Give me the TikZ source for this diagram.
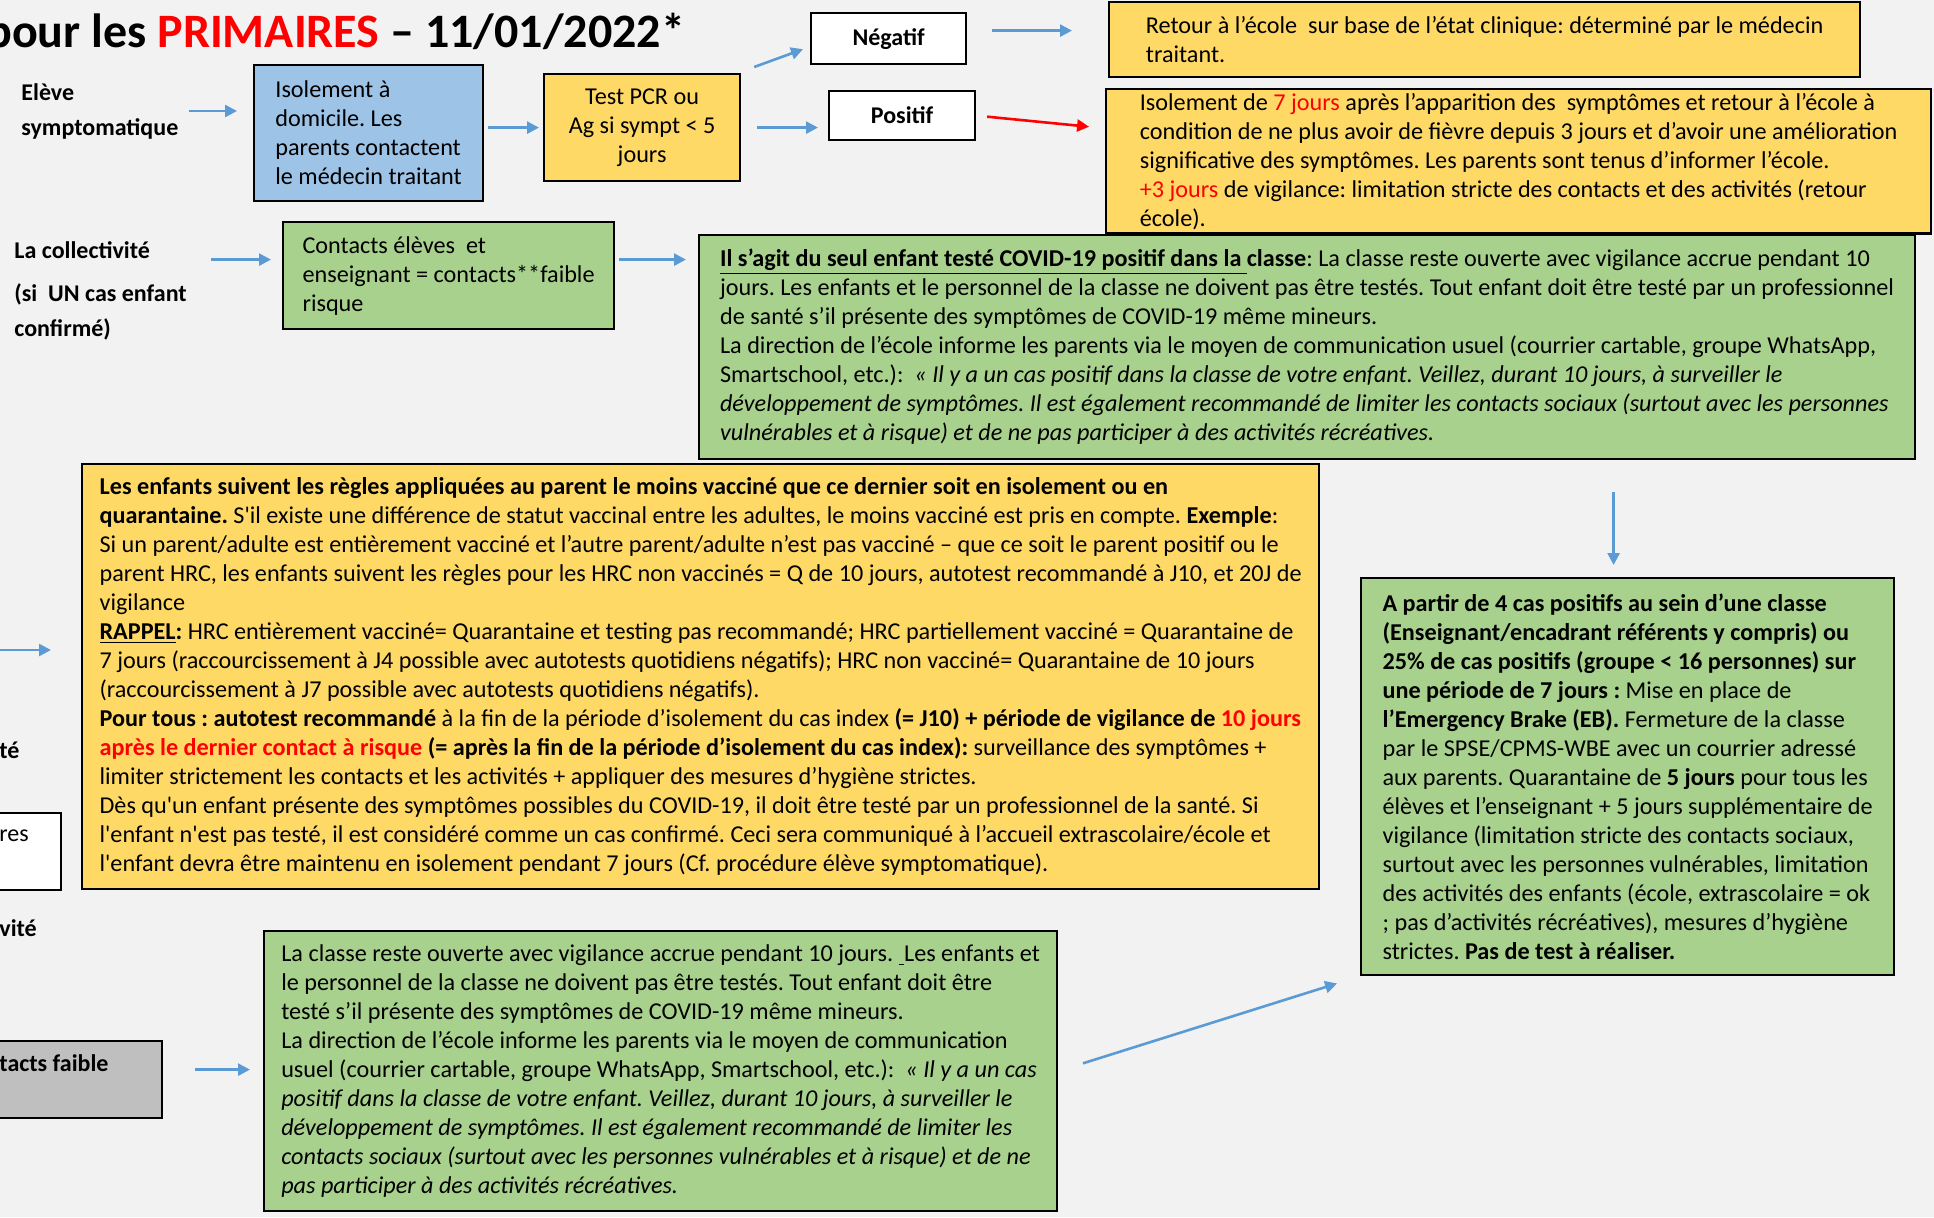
\documentclass[tikz,border=0pt]{standalone}
\usepackage{fontspec}
\setmainfont{Carlito}[Ligatures=TeXOff]
\usetikzlibrary{arrows.meta}
\definecolor{bgGrey}{HTML}{F2F2F2}
\definecolor{boxYellow}{HTML}{FFD966}
\definecolor{boxGreen}{HTML}{A9D18E}
\definecolor{boxBlue}{HTML}{9DC3E6}
\definecolor{boxGrey}{HTML}{BFBFBF}
\definecolor{arrowBlue}{HTML}{5B9BD5}
\frenchspacing

\begin{document}
\begin{tikzpicture}[x=0.5pt, y=-0.5pt,
    box/.style={draw, line width=1.1pt, anchor=north west, align=left, inner sep=2pt,
      font=\fontsize{12.1}{14.5}\selectfont},
    tag/.style={font=\fontsize{12}{17.5}\selectfont\bfseries, align=left, inner sep=0pt},
    arr/.style={draw=arrowBlue, line width=1.3pt, -{Triangle[length=6pt, width=6pt]}}]

  \fill[bgGrey] (0,0) rectangle (1934,1217);
  \useasboundingbox (0,0) rectangle (1934,1217);

  \node[anchor=base west, inner sep=0pt, font=\fontsize{24}{28}\selectfont\bfseries] (title) at (-14,47)
    {pour les \textcolor{red}{PRIMAIRES} – 11/01/2022*};

  \node[tag, anchor=west] (eleve) at (21,111) {Elève\\symptomatique};
  \node[box, fill=boxBlue, minimum width=114.5pt, minimum height=68pt] (iso) at (253,64)
    {Isolement à\\domicile. Les\\parents contactent\\le médecin traitant};
  \node[box, fill=boxYellow, align=center, minimum width=98pt, minimum height=53.5pt] (pcr) at (543,73)
    {Test PCR ou\\Ag si sympt < 5\\jours};
  \node[box, fill=white, align=center, font=\fontsize{12}{14.5}\selectfont\bfseries,
    minimum width=77.5pt, minimum height=25.5pt] (neg) at (810,12) {Négatif};
  \node[box, fill=white, align=center, font=\fontsize{12}{14.5}\selectfont\bfseries,
    minimum width=73pt, minimum height=24.5pt] (pos) at (828,90) {Positif};
  \node[box, fill=boxYellow, minimum width=375.5pt, minimum height=37.5pt] (retour) at (1108,1)
    {Retour à l’école~ sur base de l’état clinique: déterminé par le médecin\\traitant.};
  \node[box, fill=boxYellow, minimum width=412.5pt, minimum height=70pt] (posres) at (1105,88)
    {Isolement de \textcolor{red}{7 jours} après l’apparition des~ symptômes et retour à l’école à\\
     condition de ne plus avoir de fièvre depuis 3 jours et d’avoir une amélioration\\
     significative des symptômes. Les parents sont tenus d’informer l’école.\\
     \textcolor{red}{+3 jours} de vigilance: limitation stricte des contacts et des activités (retour\\
     école).};

  \node[tag, anchor=west] (coll) at (14,291) {La collectivité\\[4pt](si~ UN cas enfant\\confirmé)};
  \node[box, fill=boxGreen, minimum width=165.5pt, minimum height=53.5pt] (cont) at (282,221)
    {Contacts élèves~ et\\enseignant = contacts**faible\\risque};
  \node[box, fill=boxGreen, minimum width=608pt, minimum height=112pt] (grn) at (698,234)
    {\underline{\textbf{Il s’agit du seul enfant testé COVID-19 positif dans la }}\textbf{classe}: La classe reste ouverte avec vigilance accrue pendant 10\\
     jours. Les enfants et le personnel de la classe ne doivent pas être testés. Tout enfant doit être testé par un professionnel\\
     de santé s’il présente des symptômes de COVID-19 même mineurs.\\
     La direction de l’école informe les parents via le moyen de communication usuel (courrier cartable, groupe WhatsApp,\\
     Smartschool, etc.):~ \textit{« Il y a un cas positif dans la classe de votre enfant. Veillez, durant 10 jours, à surveiller le}\\
     \textit{développement de symptômes. Il est également recommandé de limiter les contacts sociaux (surtout avec les personnes}\\
     \textit{vulnérables et à risque) et de ne pas participer à des activités récréatives.}};

  \node[box, fill=boxYellow, minimum width=618.5pt, minimum height=212.5pt] (rules) at (81,463)
    {\textbf{Les enfants suivent les règles appliquées au parent le moins vacciné que ce dernier soit en isolement ou en}\\
     \textbf{quarantaine.} S'il existe une différence de statut vaccinal entre les adultes, le moins vacciné est pris en compte. \textbf{Exemple}:\\
     Si un parent/adulte est entièrement vacciné et l’autre parent/adulte n’est pas vacciné – que ce soit le parent positif ou le\\
     parent HRC, les enfants suivent les règles pour les HRC non vaccinés = Q de 10 jours, autotest recommandé à J10, et 20J de\\
     vigilance\\
     \underline{\textbf{RAPPEL}}\textbf{:} HRC entièrement vacciné= Quarantaine et testing pas recommandé; HRC partiellement vacciné = Quarantaine de\\
     7 jours (raccourcissement à J4 possible avec autotests quotidiens négatifs); HRC non vacciné= Quarantaine de 10 jours\\
     (raccourcissement à J7 possible avec autotests quotidiens négatifs).\\
     \textbf{Pour tous : autotest recommandé} à la fin de la période d’isolement du cas index \textbf{(= J10) + période de vigilance de \textcolor{red}{10 jours}}\\
     \textcolor{red}{\textbf{après le dernier contact à risque}} \textbf{(= après la fin de la période d’isolement du cas index):} surveillance des symptômes +\\
     limiter strictement les contacts et les activités + appliquer des mesures d’hygiène strictes.\\
     Dès qu'un enfant présente des symptômes possibles du COVID-19, il doit être testé par un professionnel de la santé. Si\\
     l'enfant n'est pas testé, il est considéré comme un cas confirmé. Ceci sera communiqué à l’accueil extrascolaire/école et\\
     l'enfant devra être maintenu en isolement pendant 7 jours (Cf. procédure élève symptomatique).};

  \node[box, fill=boxGreen, minimum width=266.5pt, minimum height=198.5pt] (eb) at (1360,577)
    {\textbf{A partir de 4 cas positifs au sein d’une classe}\\
     \textbf{(Enseignant/encadrant référents y compris) ou}\\
     \textbf{25\% de cas positifs (groupe < 16 personnes) sur}\\
     \textbf{une période de 7 jours :} Mise en place de\\
     \textbf{l’Emergency Brake (EB).} Fermeture de la classe\\
     par le SPSE/CPMS-WBE avec un courrier adressé\\
     aux parents. Quarantaine de \textbf{5 jours} pour tous les\\
     élèves et l’enseignant + 5 jours supplémentaire de\\
     vigilance (limitation stricte des contacts sociaux,\\
     surtout avec les personnes vulnérables, limitation\\
     des activités des enfants (école, extrascolaire = ok\\
     ; pas d’activités récréatives), mesures d’hygiène\\
     strictes. \textbf{Pas de test à réaliser.}};

  \node[box, fill=boxGreen, minimum width=396.5pt, minimum height=140pt] (open) at (263,930)
    {La classe reste ouverte avec vigilance accrue pendant 10 jours. \underline{\ }Les enfants et\\
     le personnel de la classe ne doivent pas être testés. Tout enfant doit être\\
     testé s’il présente des symptômes de COVID-19 même mineurs.\\
     La direction de l’école informe les parents via le moyen de communication\\
     usuel (courrier cartable, groupe WhatsApp, Smartschool, etc.):~ \textit{« Il y a un cas}\\
     \textit{positif dans la classe de votre enfant. Veillez, durant 10 jours, à surveiller le}\\
     \textit{développement de symptômes. Il est également recommandé de limiter les}\\
     \textit{contacts sociaux (surtout avec les personnes vulnérables et à risque) et de ne}\\
     \textit{pas participer à des activités récréatives.}};

  \node[box, fill=white, anchor=north east, minimum width=45pt, minimum height=38.5pt] (resbox) at (62,812) {};
  \node[box, fill=boxGrey, anchor=north east, minimum width=95pt, minimum height=38.5pt] (greybox) at (163,1040) {};
  \node[tag, anchor=west] (te) at (-1,750) {té};
  \node[anchor=west, inner sep=0pt, font=\fontsize{12}{14.5}\selectfont] (res) at (-1,836) {res};
  \node[tag, anchor=west] (vite) at (-1,928) {vité};
  \node[tag, anchor=west] (faible) at (-1,1063) {tacts faible};
  \coordinate (fromleft) at (0,650);

  \draw[arr, shorten <=5pt, shorten >=8pt] (eleve.east) -- (eleve.east -| iso.west);
  \draw[arr, shorten <=2pt, shorten >=2pt] (iso.east |- pcr.west) -- (pcr.west);
  \draw[arr] ([xshift=6.5pt, yshift=3pt]pcr.north east) -- ([xshift=-3.5pt, yshift=8pt]neg.south west);
  \draw[arr, shorten <=8pt, shorten >=5pt] (pcr.east) -- (pcr.east -| pos.west);
  \draw[arr, shorten <=12.5pt, shorten >=18pt] ([yshift=4pt]neg.east) -- ([yshift=4pt]neg.east -| retour.west);
  \draw[arr, draw=red, shorten <=5.5pt, shorten >=8pt] (pos.east) -- ([yshift=16.5pt]posres.west);
  \draw[arr, shorten <=12pt, shorten >=5.5pt] ([yshift=8pt]cont.west -| coll.east) -- ([yshift=8pt]cont.west);
  \draw[arr, shorten <=2pt, shorten >=6pt] ([yshift=8pt]cont.east) -- ([yshift=8pt]cont.east -| grn.west);
  \draw[arr, shorten <=16pt, shorten >=6pt] ([xshift=-7pt]eb.north |- grn.south) -- ([xshift=-7pt]eb.north);
  \draw[arr, shorten >=15pt] (fromleft) -- (fromleft -| rules.west);
  \draw[arr, shorten <=16pt, shorten >=6.5pt] ([yshift=5pt]greybox.east) -- ([yshift=5pt]greybox.east -| open.west);
  \draw[arr, shorten <=13pt, shorten >=12pt] (open.east) -- (eb.south west);
\end{tikzpicture}
\end{document}
